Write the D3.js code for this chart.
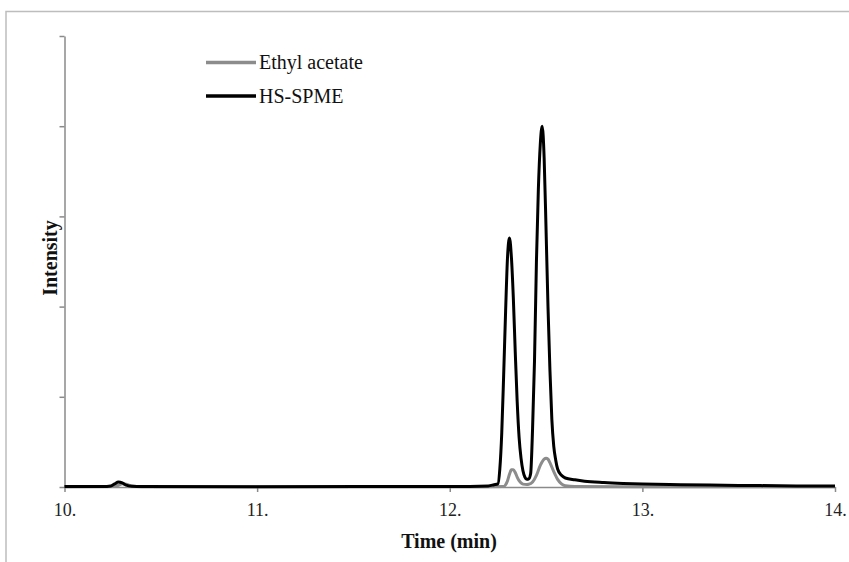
<!DOCTYPE html>
<html>
<head>
<meta charset="utf-8">
<script src="https://cdn.jsdelivr.net/npm/d3@7"></script>
<style>
  html, body { margin: 0; padding: 0; background: #fff; }
  svg { display: block; }
</style>
</head>
<body>
<div id="chart"></div>
<script>
// Chromatogram: ethyl acetate extract vs HS-SPME

// retention time (min), intensity (arbitrary units, 0..5)
const hsSpmeTime = [10.00, 10.20, 10.24, 10.26, 10.28, 10.30, 10.32, 10.35, 10.40, 11.00, 12.00, 12.20,
    12.23, 12.25, 12.26, 12.27, 12.28, 12.29, 12.30, 12.31, 12.32, 12.33, 12.34, 12.35, 12.36,
    12.37, 12.38, 12.39, 12.40, 12.41, 12.42, 12.43, 12.44, 12.45, 12.46, 12.47, 12.48, 12.49,
    12.50, 12.51, 12.52, 12.53, 12.54, 12.55, 12.56, 12.58, 12.60, 12.65, 12.70, 12.80, 12.90,
    13.00, 13.20, 13.50, 13.80, 14.00];
const hsSpmeValue = [0.005, 0.005, 0.012, 0.035, 0.055, 0.045, 0.02, 0.008, 0.005, 0.004, 0.006, 0.012,
    0.025, 0.035, 0.2, 0.6, 1.25, 1.95, 2.55, 2.76, 2.55, 2.1, 1.5, 0.95, 0.55,
    0.32, 0.18, 0.11, 0.085, 0.09, 0.15, 0.65, 1.4, 2.5, 3.3, 3.8, 4.0, 3.65,
    2.85, 2.0, 1.3, 0.75, 0.45, 0.3, 0.2, 0.13, 0.1, 0.08, 0.065, 0.05, 0.04,
    0.033, 0.025, 0.018, 0.012, 0.01];

const ethylTime = [10.00, 10.25, 10.28, 10.30, 10.32, 10.35, 10.40, 11.00, 12.00, 12.28,
    12.29, 12.30, 12.31, 12.32, 12.33, 12.34, 12.35, 12.36, 12.37, 12.38, 12.40, 12.41, 12.43,
    12.45, 12.47, 12.49, 12.50, 12.51, 12.52, 12.54, 12.56, 12.58, 12.60, 12.65, 13.00, 14.00];
const ethylValue = [0.003, 0.005, 0.02, 0.035, 0.03, 0.012, 0.004, 0.003, 0.003, 0.005,
    0.025, 0.07, 0.14, 0.19, 0.19, 0.16, 0.11, 0.07, 0.045, 0.032, 0.028, 0.03, 0.055,
    0.13, 0.24, 0.31, 0.32, 0.31, 0.27, 0.17, 0.085, 0.035, 0.014, 0.005, 0.003, 0.003];

const xTicks = [10, 11, 12, 13, 14];
const yTicks = [0, 1, 2, 3, 4, 5];

const series = [
    { name: "Ethyl acetate", color: "#8c8c8c", time: ethylTime, value: ethylValue },
    { name: "HS-SPME", color: "#000", time: hsSpmeTime, value: hsSpmeValue }
];

const serif = "'Liberation Serif', 'Times New Roman', serif";
const width = 849, height = 562;
const margin = { top: 36, right: 14, bottom: 75, left: 64.5 };

const svg = d3.select("#chart").append("svg")
    .attr("width", width)
    .attr("height", height)
    .attr("font-family", serif);

// outer frame (picture border)
svg.append("path")
    .attr("d", `M6,${height} V11.5 H${width}`)
    .attr("fill", "none")
    .attr("stroke", "#bdbdbd")
    .attr("stroke-width", 1.5);

const x = d3.scaleLinear()
    .domain([10, 14])
    .range([margin.left, width - margin.right]);

const y = d3.scaleLinear()
    .domain([0, 5])
    .range([height - margin.bottom, margin.top]);

// axes
const xAxis = svg.append("g")
    .attr("transform", `translate(0,${y(0)})`)
    .call(d3.axisBottom(x).tickValues(xTicks).tickSize(5).tickSizeOuter(0).tickFormat(d => d + "."))
    .attr("font-family", serif)
    .attr("font-size", 18);
xAxis.select(".domain").attr("stroke", "#8a8a8a").attr("stroke-width", 1.5);
xAxis.selectAll(".tick line").attr("stroke", "#8a8a8a").attr("stroke-width", 1.5);
xAxis.selectAll(".tick text")
    .attr("y", 13)
    .attr("dy", "0.9em")
    .attr("fill", "#222");

const yAxis = svg.append("g")
    .attr("transform", `translate(${margin.left},0)`)
    .call(d3.axisLeft(y).tickValues(yTicks).tickSize(5).tickSizeOuter(0).tickFormat(""));
yAxis.select(".domain").attr("stroke", "#8a8a8a").attr("stroke-width", 1.5);
yAxis.selectAll(".tick line").attr("stroke", "#8a8a8a").attr("stroke-width", 1.5);

// axis titles
svg.append("text")
    .attr("x", 449)
    .attr("y", 548)
    .attr("text-anchor", "middle")
    .attr("font-size", 20)
    .attr("font-weight", "bold")
    .attr("fill", "#111")
    .text("Time (min)");

svg.append("text")
    .attr("transform", "translate(57,258) rotate(-90)")
    .attr("text-anchor", "middle")
    .attr("font-size", 20)
    .attr("font-weight", "bold")
    .attr("fill", "#111")
    .text("Intensity");

// traces
const line = d3.line()
    .x(d => x(d[0]))
    .y(d => y(d[1]))
    .curve(d3.curveMonotoneX);

series.forEach(s => {
    const pts = s.time.map((t, i) => [t, s.value[i]]);
    svg.append("path")
        .datum(pts)
        .attr("fill", "none")
        .attr("stroke", s.color)
        .attr("stroke-width", 3)
        .attr("stroke-linejoin", "round")
        .attr("d", line);
});

// legend
const legend = svg.append("g").attr("transform", "translate(206,62.5)");
series.forEach((s, i) => {
    const row = legend.append("g").attr("transform", `translate(0,${i * 33.5})`);
    row.append("line")
        .attr("x1", 0).attr("x2", 50)
        .attr("stroke", s.color)
        .attr("stroke-width", 3.5);
    row.append("text")
        .attr("x", 53)
        .attr("dy", "0.33em")
        .attr("font-size", 20)
        .attr("fill", "#111")
        .text(s.name);
});
</script>
</body>
</html>
